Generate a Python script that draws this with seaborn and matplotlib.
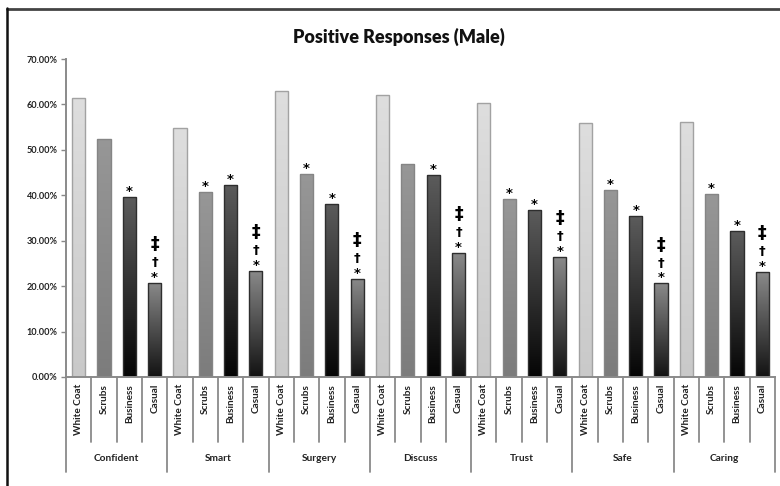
import numpy as np
import pandas as pd
import matplotlib
matplotlib.use("Agg")
import matplotlib.pyplot as plt
from matplotlib import transforms
from matplotlib.colors import LinearSegmentedColormap
from matplotlib.lines import Line2D
import seaborn as sns

# ---- data -------------------------------------------------------------
traits = ["Confident", "Smart", "Surgery", "Discuss", "Trust", "Safe", "Caring"]
attire = ["White Coat", "Scrubs", "Business", "Casual"]

white_coat = [61.5, 54.8, 63.0, 62.1, 60.4, 55.9, 56.2]
scrubs = [52.4, 40.7, 44.7, 46.9, 39.2, 41.2, 40.3]
business = [39.6, 42.3, 38.1, 44.5, 36.8, 35.5, 32.1]
casual = [20.7, 23.4, 21.6, 27.3, 26.4, 20.6, 23.1]

# significance markers drawn above each bar (bottom to top)
white_coat_marks = ["", "", "", "", "", "", ""]
scrubs_marks = ["", "*", "*", "", "*", "*", "*"]
business_marks = ["*", "*", "*", "*", "*", "*", "*"]
casual_marks = ["*†‡", "*†‡", "*†‡", "*†‡", "*†‡", "*†‡", "*†‡"]

yticks = [0, 10, 20, 30, 40, 50, 60, 70]
title = "Positive Responses (Male)"

# ---- long table --------------------------------------------------------
series = {"White Coat": white_coat, "Scrubs": scrubs,
          "Business": business, "Casual": casual}
marks = {"White Coat": white_coat_marks, "Scrubs": scrubs_marks,
         "Business": business_marks, "Casual": casual_marks}
df = pd.DataFrame([
    {"trait": t, "attire": a, "value": series[a][i]}
    for i, t in enumerate(traits) for a in attire
])

# ---- style -------------------------------------------------------------
sns.set_style("white")
plt.rcParams["font.family"] = ["Lato", "DejaVu Sans"]

fills = {  # (top, bottom) colours of the vertical gradients
    "White Coat": ("#dedede", "#c9c9c9"),
    "Scrubs": ("#979797", "#7c7c7c"),
    "Business": ("#5c5c5c", "#050505"),
    "Casual": ("#8a8a8a", "#121212"),
}
edges = {"White Coat": "#a2a2a2", "Scrubs": "#858585",
         "Business": "#2e2e2e", "Casual": "#2e2e2e"}

W, H = 780, 486
fig = plt.figure(figsize=(W / 100, H / 100), dpi=100)
fig.patch.set_facecolor("white")
ax = fig.add_axes([66 / W, 1 - 377 / H, (775 - 66) / W, (377 - 59) / H])

sns.barplot(data=df, x="trait", y="value", hue="attire", order=traits,
            hue_order=attire, palette=["#cccccc", "#888888", "#333333", "#555555"],
            width=1.0, gap=0.48, legend=False, errorbar=None, ax=ax)

n_h = len(attire)
slot = 1.0 / n_h
bars = []
for p in ax.patches:
    cx = p.get_x() + p.get_width() / 2
    i = int(np.floor(cx + 0.5))
    k = int((cx - (i - 0.5)) / slot)
    bars.append((p, i, k, cx))

for p, i, k, cx in bars:
    a = attire[k]
    top_c, bot_c = fills[a]
    cmap = LinearSegmentedColormap.from_list(a, [bot_c, top_c])
    x0, w, h = p.get_x(), p.get_width(), p.get_height()
    grad = np.linspace(0, 1, 256).reshape(-1, 1)
    im = ax.imshow(grad, extent=[x0, x0 + w, 0, h], origin="lower",
                   aspect="auto", cmap=cmap, zorder=1.5)
    im.set_clip_path(p)
    p.set_facecolor("none")
    p.set_edgecolor(edges[a])
    p.set_linewidth(1.0)
    p.set_zorder(2)

    # significance symbols
    offsets = [4.0, 14.5, 28.0]
    sizes = [9.5, 9.5, 12.5]
    for j, ch in enumerate(marks[a][i]):
        ax.annotate(ch, xy=(cx, h), xytext=(0, offsets[j]),
                    textcoords="offset points", ha="center", va="center",
                    fontsize=sizes[j], fontweight="bold", color="black",
                    family=["DejaVu Sans"], zorder=3)

ax.set_xlim(-0.5, len(traits) - 0.5)
ax.set_ylim(0, 70)
ax.set_yticks(yticks)
ax.set_yticklabels([f"{v:.2f}%" for v in yticks], fontsize=6.6,
                   fontweight="bold", color="#222222")
ax.tick_params(axis="y", which="major", left=True, length=3.5, width=1,
               color="#888888", pad=2.5)
ax.set_xticks([])
ax.set_xlabel("")
ax.set_ylabel("")
for s in ["top", "right"]:
    ax.spines[s].set_visible(False)
ax.spines["left"].set_color("#8a8a8a")
ax.spines["left"].set_linewidth(1.4)
ax.spines["bottom"].set_color("#8a8a8a")
ax.spines["bottom"].set_linewidth(1.4)

# ---- two-level category axis ------------------------------------------
tr = transforms.blended_transform_factory(ax.transData, fig.transFigure)
y_axis = 1 - 377 / H
y_inner = 1 - 442 / H
y_outer = 1 - 472 / H
line_kw = dict(color="#8a8a8a", lw=1.3, transform=tr, clip_on=False)
for i in range(len(traits)):
    for k in range(1, n_h):
        xb = i - 0.5 + k * slot
        ax.add_line(Line2D([xb, xb], [y_axis, y_inner], **line_kw))
for i in range(len(traits) + 1):
    xb = i - 0.5
    ax.add_line(Line2D([xb, xb], [y_axis, y_outer], **line_kw))

for i, t in enumerate(traits):
    for k, a in enumerate(attire):
        xc = i - 0.5 + (k + 0.5) * slot
        ax.text(xc, 1 - 384 / H, a, rotation=90, ha="center", va="top",
                fontsize=7.2, fontweight="bold", color="#222222", transform=tr)
    ax.text(i, 1 - 458 / H, t, ha="center", va="center", fontsize=7.3,
            fontweight="bold", color="#222222", transform=tr)

# ---- title and frame ---------------------------------------------------
fig.text(399 / W, 1 - 37 / H, title, ha="center", va="center",
         fontsize=13, fontweight="heavy", color="#111111")
fig.add_artist(Line2D([7 / W, 1], [1 - 9 / H, 1 - 9 / H], color="#444444",
                      lw=2, transform=fig.transFigure))
fig.add_artist(Line2D([7 / W, 7 / W], [0, 1 - 8 / H], color="#111111",
                      lw=1.8, transform=fig.transFigure))

fig.savefig("out.png", dpi=100, facecolor="white")
